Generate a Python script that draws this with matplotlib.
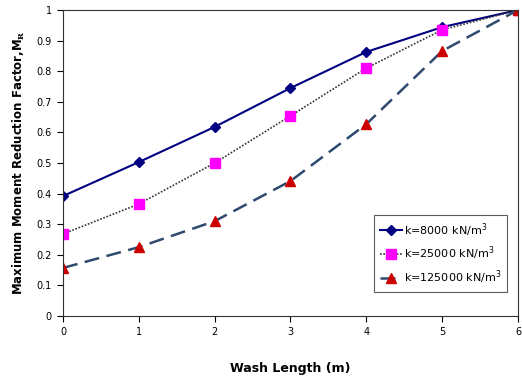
import matplotlib
matplotlib.use("Agg")
import matplotlib.pyplot as plt

x = [0, 1, 2, 3, 4, 5, 6]
k8000 = [0.392, 0.503, 0.618, 0.745, 0.863, 0.944, 1.0]
k25000 = [0.268, 0.366, 0.500, 0.654, 0.810, 0.935, 1.0]
k125000 = [0.157, 0.225, 0.310, 0.441, 0.627, 0.866, 1.0]
xticks = [0, 1, 2, 3, 4, 5, 6]
yticks = [0, 0.1, 0.2, 0.3, 0.4, 0.5, 0.6, 0.7, 0.8, 0.9, 1]
ytick_labels = ["0", "0.1", "0.2", "0.3", "0.4", "0.5", "0.6", "0.7", "0.8", "0.9", "1"]

plt.rcParams['mathtext.fontset'] = 'dejavuserif'

fig = plt.figure(figsize=(5.22, 3.8), dpi=100)
ax = fig.add_axes([0.1207, 0.1684, 0.8716, 0.8053])

ax.plot(x, k8000, color='#000080', lw=1.5, marker='D', ms=5, mfc='#000080', mec='#000080',
        label=r'k=8000 $\mathregular{kN/m^3}$')
ax.plot(x, k25000, color='#333333', lw=1.2, ls=(0, (1, 1)), marker='s', ms=7,
        mfc='#FF00FF', mec='#FF00FF', label=r'k=25000 $\mathregular{kN/m^3}$')
ax.plot(x, k125000, color='#2E4A6E', lw=1.8, ls=(0, (6, 3)), marker='^', ms=7,
        mfc='#CC0000', mec='#CC0000', label=r'k=125000 $\mathregular{kN/m^3}$')

ax.set_xlim(0, 6)
ax.set_ylim(0, 1)
ax.set_xticks(xticks)
ax.set_xticklabels([str(v) for v in xticks], fontsize=7, family='Liberation Sans Narrow')
ax.set_yticks(yticks)
ax.set_yticklabels(ytick_labels, fontsize=7, family='Liberation Sans Narrow')
ax.tick_params(direction='out', length=4, width=0.8, pad=4)
for s in ax.spines.values():
    s.set_linewidth(0.8)
    s.set_color('#333333')

ax.set_xlabel('Wash Length (m)', fontsize=9, fontweight='bold', labelpad=18)
ax.set_ylabel(r'Maximum Moment Reduction Factor,M$_{\mathbf{R}}$', fontsize=8.5,
              fontweight='bold', labelpad=7)

leg = ax.legend(loc='lower right', bbox_to_anchor=(0.976, 0.08), fontsize=8,
                frameon=True, fancybox=False, handlelength=2.0, handletextpad=0.2,
                borderpad=0.5, labelspacing=0.55, borderaxespad=0)
leg.get_frame().set_edgecolor('#333333')
leg.get_frame().set_linewidth(0.8)

fig.savefig('out.png', dpi=100)
